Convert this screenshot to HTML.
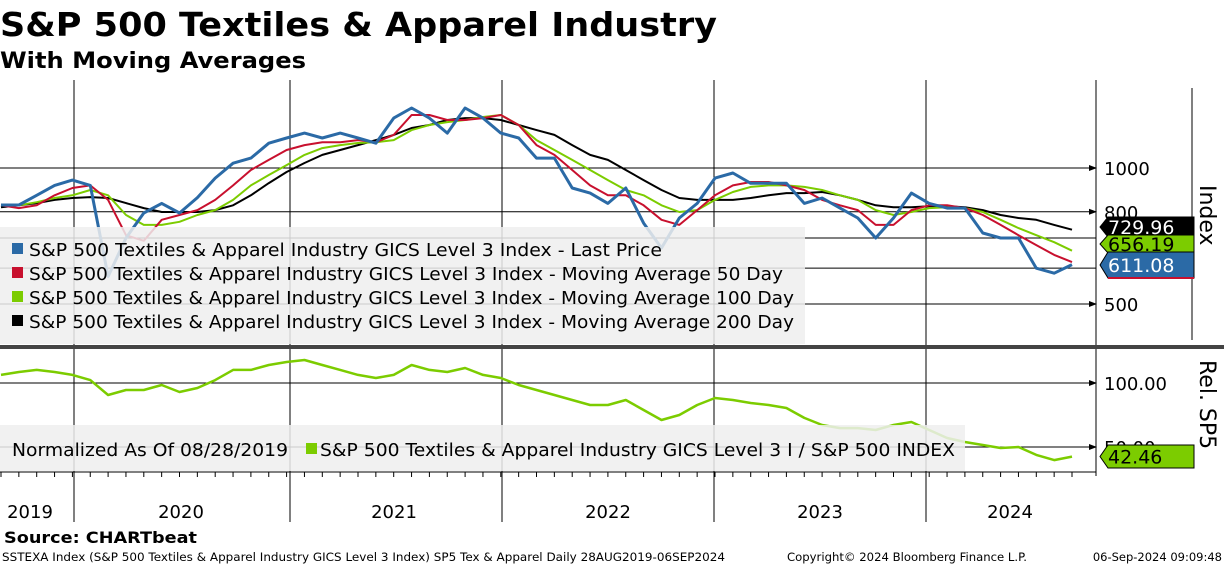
<!DOCTYPE html>
<html><head><meta charset="utf-8">
<style>
body{margin:0;background:#fff;width:1224px;height:566px;overflow:hidden;font-family:"DejaVu Sans","Liberation Sans",sans-serif;}
svg text{font-family:"DejaVu Sans","Liberation Sans",sans-serif;}
</style></head>
<body>
<svg id="chart" width="1224" height="566" viewBox="0 0 1224 566" xmlns="http://www.w3.org/2000/svg">
<text x="0" y="36" font-size="33" font-weight="bold" fill="#000" textLength="717" lengthAdjust="spacingAndGlyphs">S&amp;P 500 Textiles &amp; Apparel Industry</text>
<text x="0" y="68" font-size="22" font-weight="bold" fill="#000" textLength="306" lengthAdjust="spacingAndGlyphs">With Moving Averages</text>
<g id="grid"></g>
<g id="series"></g>
<g id="overlay"></g>
<text x="4" y="543" font-size="16" font-weight="bold" textLength="193" lengthAdjust="spacingAndGlyphs">Source: CHARTbeat</text>
<text x="2" y="561" font-size="11.5" textLength="723" lengthAdjust="spacingAndGlyphs">SSTEXA Index (S&amp;P 500 Textiles &amp; Apparel Industry GICS Level 3 Index) SP5 Tex &amp; Apparel  Daily 28AUG2019-06SEP2024</text>
<text x="787" y="561" font-size="11.5" textLength="240" lengthAdjust="spacingAndGlyphs">Copyright© 2024 Bloomberg Finance L.P.</text>
<text x="1222" y="561" font-size="11.5" text-anchor="end">06-Sep-2024 09:09:48</text>
</svg>
<script>
// monthly samples Sep 2019 .. Sep 2024
const months = 61;
const price = [828,828,870,915,940,915,575,700,795,835,795,860,950,1025,1052,1135,1165,1195,1165,1195,1165,1135,1290,1358,1290,1195,1358,1290,1195,1165,1052,1052,903,880,835,903,755,665,775,835,950,975,925,925,925,835,858,815,775,700,775,880,835,815,815,718,700,700,600,585,611];
const ma50 = [827,815,827,870,903,915,850,710,690,768,787,807,850,915,990,1042,1096,1124,1140,1140,1153,1140,1184,1310,1310,1277,1277,1290,1310,1245,1124,1069,990,915,870,870,827,768,748,807,870,915,931,931,915,894,850,827,807,748,748,807,827,827,815,787,748,710,675,642,619];
const ma100 = [827,827,840,858,870,894,870,787,748,748,760,787,807,850,915,965,1015,1069,1107,1124,1136,1140,1153,1213,1245,1264,1277,1297,1310,1245,1153,1096,1042,990,940,894,870,827,799,807,850,885,908,915,915,908,894,870,850,807,787,799,815,819,815,799,768,736,710,685,656];
const ma200 = [819,827,836,850,858,862,858,836,815,799,799,799,807,827,870,926,980,1026,1069,1096,1124,1153,1184,1226,1245,1277,1290,1290,1277,1245,1213,1184,1124,1069,1042,990,940,894,858,850,850,850,858,870,880,880,885,870,850,827,819,819,823,823,819,807,787,775,768,748,730];
const rel = [106.3,108.6,110.2,108.6,106.3,102.3,90.6,94.5,94.5,98.4,93,96.1,102.3,110.2,110.2,114.1,116.4,118,114.1,110.2,106.3,103.9,106.3,114.1,110.2,108.6,111.7,106.3,103.9,98.4,94.5,90.6,86.7,82.8,82.8,86.7,78.9,71.1,75,82.8,88.3,86.7,84.4,82.8,80.5,72.7,67.2,64.8,64.8,63.3,67.2,69.5,63.3,57,53.9,51.6,49.2,50,43.8,39.8,42.5];
const priceTicks = [1000,800,500];
const priceGrid = [1000,800,700,600,500];
const relTicks = [100,50];
const years = ["2019","2020","2021","2022","2023","2024"];

const NS="http://www.w3.org/2000/svg";
function mk(parent,tag,attrs){const e=document.createElementNS(NS,tag);for(const k in attrs)e.setAttribute(k,attrs[k]);parent.appendChild(e);return e;}
function xScale(i){return 1+i*(1071/(months-1));}
function yPrice(v){return 168+451.6*Math.log10(1000/v);}
function yRel(v){return 383+(100-v)*1.28;}
const grid=document.getElementById('grid'),ser=document.getElementById('series'),ov=document.getElementById('overlay');
const yearX=[74,290,502,714,926];
yearX.forEach((x,i)=>{const l=mk(grid,'line',{x1:x,y1:80,x2:x,y2:522,stroke:'#000','stroke-width':1});

});
priceGrid.forEach(v=>{const l=mk(grid,'line',{x1:0,y1:yPrice(v),x2:1096,y2:yPrice(v),stroke:'#000','stroke-width':1});

});
relTicks.forEach(v=>{const l=mk(grid,'line',{x1:0,y1:yRel(v),x2:1096,y2:yRel(v),stroke:'#000','stroke-width':1});

});
mk(grid,'line',{x1:1096,y1:80,x2:1096,y2:476,stroke:'#000'});
mk(grid,'line',{x1:0,y1:472,x2:1096,y2:472,stroke:'#000'});
mk(grid,'line',{x1:1192,y1:88,x2:1192,y2:340,stroke:'#000'});
mk(grid,'rect',{x:0,y:345,width:1224,height:4,fill:'#444'});
priceTicks.forEach(v=>{const t=mk(grid,'text',{x:1104,y:yPrice(v)+7,'font-size':18});t.textContent=v;


mk(grid,'path',{d:`M1089 ${yPrice(v)-3} L1097 ${yPrice(v)} L1089 ${yPrice(v)+3}Z`,fill:'#000'});});
relTicks.forEach(v=>{const t=mk(grid,'text',{x:1104,y:yRel(v)+7,'font-size':18});t.textContent=v.toFixed(2);


mk(grid,'path',{d:`M1089 ${yRel(v)-3} L1097 ${yRel(v)} L1089 ${yRel(v)+3}Z`,fill:'#000'});});
const yc=[30,181,394,608,820,1010];
years.forEach((y,i)=>{const t=mk(grid,'text',{x:yc[i],y:518,'font-size':18,'text-anchor':'middle'});t.textContent=y;

});
for(let i=0;i<61;i++){const x=xScale(i);mk(grid,'line',{x1:x,y1:472,x2:x,y2:477,stroke:'#000'});}
function line(arr,ys,color,w,name){const d=arr.map((v,i)=>(i?'L':'M')+xScale(i).toFixed(1)+' '+ys(v).toFixed(1)).join(' ');
const p=mk(ser,'path',{d:d,fill:'none',stroke:color,'stroke-width':w,'stroke-linejoin':'round'});

}
line(ma200,yPrice,'#000',2,'ma200-line');
line(ma100,yPrice,'#7ccc00',2,'ma100-line');
line(ma50,yPrice,'#c8102e',2,'ma50-line');
line(price,yPrice,'#2b6aa6',3,'price-line');
line(rel,yRel,'#7ccc00',2.5,'relative-line');
const lg=mk(ov,'rect',{x:0,y:227,width:805,height:117,fill:'#eeeeee','fill-opacity':0.85});


const leg=[['#2b6aa6','Last Price',633],['#c8102e','Moving Average 50 Day',754],['#7ccc00','Moving Average 100 Day',765],['#000','Moving Average 200 Day',765]];
leg.forEach((l,i)=>{const y=250+i*24;mk(ov,'rect',{x:12,y:y-7,width:11,height:11,fill:l[0]});
const t=mk(ov,'text',{x:29,y:y+6,'font-size':17.5,textLength:l[2],lengthAdjust:'spacingAndGlyphs'});t.textContent='S&P 500 Textiles & Apparel Industry GICS Level 3 Index - '+l[1];

});
const lg2=mk(ov,'rect',{x:0,y:425,width:965,height:46,fill:'#eeeeee','fill-opacity':0.85});


const t2=mk(ov,'text',{x:12,y:456,'font-size':17.5,textLength:276,lengthAdjust:'spacingAndGlyphs'});t2.textContent='Normalized As Of 08/28/2019';


mk(ov,'rect',{x:306,y:443,width:11,height:11,fill:'#7ccc00'});
const t3=mk(ov,'text',{x:320,y:456,'font-size':17.5,textLength:635,lengthAdjust:'spacingAndGlyphs'});t3.textContent='S&P 500 Textiles & Apparel Industry GICS Level 3 I / S&P 500 INDEX';


function tag(y,h,fill,txtc,txt,name){mk(ov,'path',{d:`M1108 ${y} L1194 ${y} L1194 ${y+h} L1108 ${y+h} L1100 ${y+h/2} Z`,fill:fill,stroke:'#000','stroke-width':1});
const t=mk(ov,'text',{x:1108,y:y+h/2+7,'font-size':19,fill:txtc});t.textContent=txt;

}
tag(217,20,'#000','#fff','729.96','ma200-value-tag');
tag(235,18,'#7ccc00','#000','656.19','ma100-value-tag');
tag(252,26,'#2b6aa6','#fff','611.08','price-value-tag');
mk(ov,'line',{x1:1108,y1:278,x2:1194,y2:278,stroke:'#c8102e','stroke-width':2});
tag(445,23,'#7ccc00','#000','42.46','relative-value-tag');
const a=mk(ov,'text',{x:1200,y:185,'font-size':22,transform:'rotate(90 1200 185)'});a.textContent='Index';


const b=mk(ov,'text',{x:1200,y:360,'font-size':22,transform:'rotate(90 1200 360)'});b.textContent='Rel. SP5';


</script>
</body></html>
